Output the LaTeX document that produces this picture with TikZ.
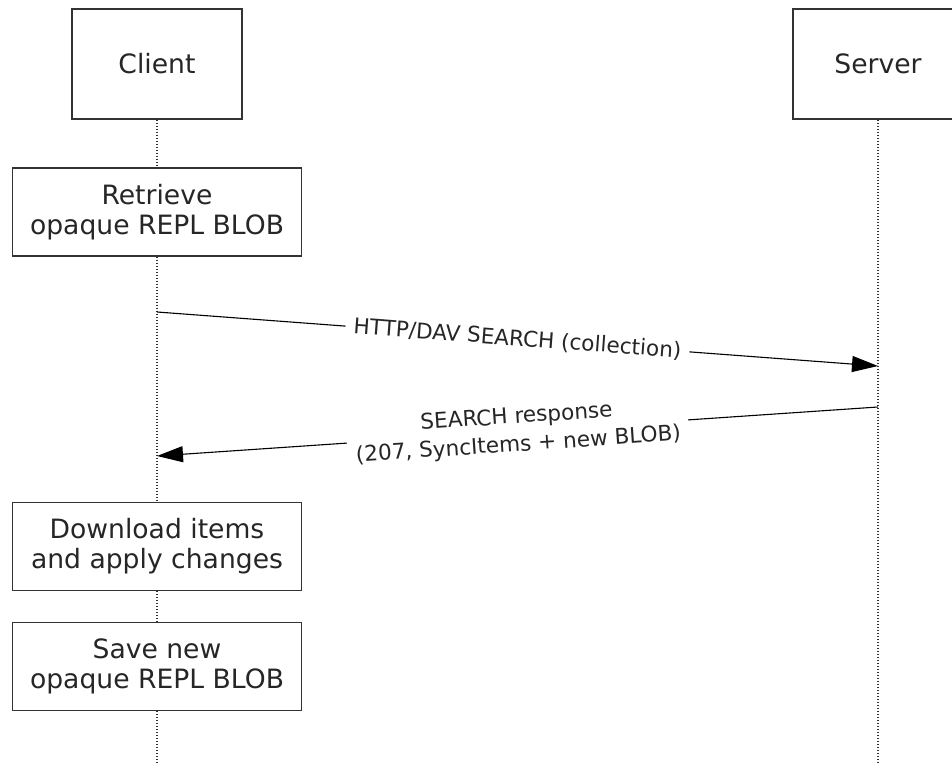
\documentclass[tikz,border=0pt]{standalone}
\usepackage{fontspec}
\setmainfont{DejaVu Sans}
\usetikzlibrary{arrows.meta}

\begin{document}
\begin{tikzpicture}[x=0.5pt, y=-0.5pt,
    actor/.style={draw=black!80, line width=0.6pt, fill=white, minimum width=85pt, minimum height=55pt, font=\fontsize{13.3}{15}\selectfont, text=black!85},
    action/.style={draw=black!80, line width=0.6pt, fill=white, minimum width=144.5pt, minimum height=44pt, align=center, font=\fontsize{13.3}{15}\selectfont, text=black!85},
    lifeline/.style={black!80, line width=0.6pt, dash pattern=on 0.6pt off 0.9pt},
    msg/.style={black, line width=0.55pt, -{Triangle[length=13pt, width=8pt]}},
    lbl/.style={fill=white, inner xsep=4pt, inner ysep=1pt, align=center, sloped, font=\fontsize{10.8}{14}\selectfont, text=black!85}]
    \useasboundingbox (0,0) rectangle (952,763);
    \clip (0,0) rectangle (952,763);
    % participants
    \node[actor] at (157,64) (client) {Client};
    \node[actor] at (878,64) (server) {Server};
    % client steps
    \node[action] at (157,212) (retrieve) {Retrieve\\opaque REPL BLOB};
    \node[action] at (157,546.5) (download) {Download items\\and apply changes};
    \node[action] at (157,666.5) (save) {Save new\\opaque REPL BLOB};
    \coordinate (clientend) at (157,763);
    \coordinate (serverend) at (878,763);
    \draw[lifeline] (client.south) -- (retrieve.north);
    \draw[lifeline] (retrieve.south) -- (download.north);
    \draw[lifeline] (download.south) -- (save.north);
    \draw[lifeline] (save.south) -- (clientend);
    \draw[lifeline] (server.south) -- (serverend);
    % messages
    \coordinate (reqfrom) at (157,312);
    \coordinate (reqto) at (878,366);
    \coordinate (respfrom) at (878,407);
    \coordinate (respto) at (157,456);
    \draw[msg] (reqfrom) -- node[lbl] {HTTP/DAV SEARCH (collection)} (reqto);
    \draw[msg] (respfrom) -- node[lbl] {SEARCH response\\(207, SyncItems + new BLOB)} (respto);
\end{tikzpicture}
\end{document}
